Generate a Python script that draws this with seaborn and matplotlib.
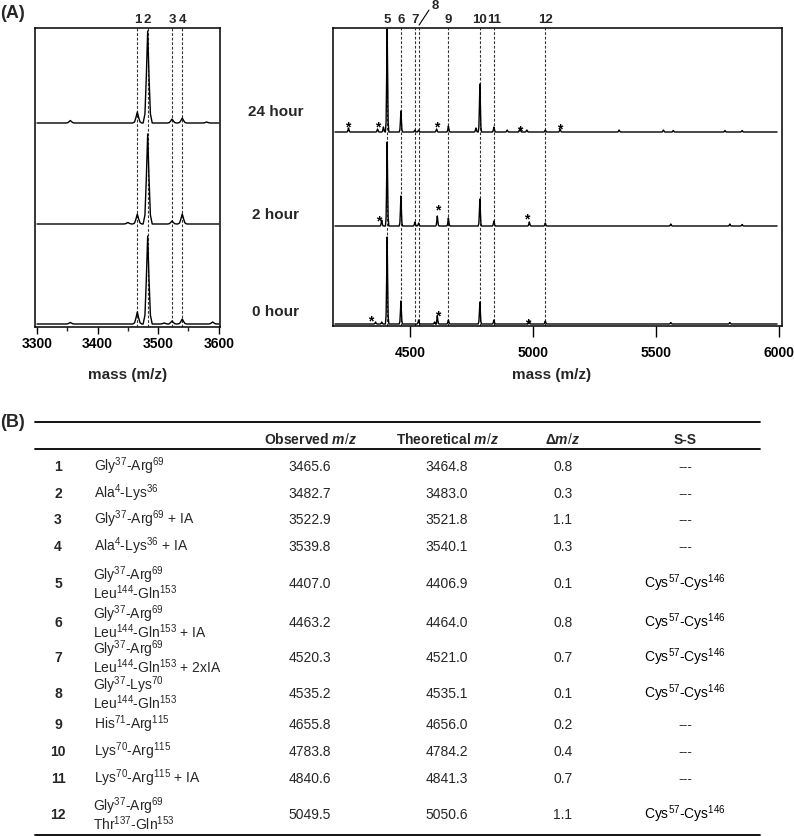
import numpy as np
import pandas as pd
import matplotlib
matplotlib.use('Agg')
import matplotlib.pyplot as plt
import matplotlib.transforms as mtrans
from matplotlib.lines import Line2D
import seaborn as sns

sns.set_theme(style='white')
plt.rcParams['font.family'] = ['Liberation Sans', 'DejaVu Sans']
plt.rcParams['mathtext.fontset'] = 'custom'
plt.rcParams['mathtext.rm'] = 'Liberation Sans'
plt.rcParams['mathtext.it'] = 'Liberation Sans:italic:bold'
plt.rcParams['mathtext.bf'] = 'Liberation Sans:bold'

# ---------------- data ----------------
time_labels = ['0 hour', '2 hour', '24 hour']

left_lines_mz = [3465.6, 3482.7, 3522.9, 3539.8]
left_lines_lab = ['1', '2', '3', '4']
right_lines_mz = [4407.0, 4463.2, 4520.3, 4535.2, 4655.8, 4783.8, 4840.6, 5049.5]
right_lines_lab = ['5', '6', '7', '', '9', '10', '11', '12']

# left panel spectra (peak m/z, intensity)
left_0h_mz = [3355, 3465.6, 3482.7, 3510, 3522.9, 3539.8, 3590]
left_0h_int = [1.5, 12, 88, 1, 3, 5, 2]
left_2h_mz = [3450, 3465.6, 3482.7, 3522.9, 3539.8]
left_2h_int = [1.5, 10, 90, 3, 10]
left_24h_mz = [3355, 3465.6, 3482.7, 3522.9, 3539.8, 3580]
left_24h_int = [2.5, 11, 92, 4, 5, 1]

# right panel spectra
right_0h_mz = [4360, 4385, 4407, 4463, 4535, 4600, 4611, 4656, 4784, 4841, 4985, 5050, 5560, 5800]
right_0h_int = [2, 2, 87, 23, 4, 2, 8, 4, 22, 4, 3, 3, 1.5, 1.5]
right_2h_mz = [4385, 4407, 4463, 4520, 4535, 4611, 4656, 4784, 4841, 4985, 5050, 5560, 5800, 5850]
right_2h_int = [6, 84, 30, 4, 3, 10, 8, 27, 5, 4, 3, 2, 2, 1.5]
right_24h_mz = [4250, 4368, 4392, 4407, 4463, 4520, 4535, 4608, 4656, 4768, 4784, 4841,
                4895, 4947, 4975, 5050, 5110, 5350, 5530, 5570, 5780, 5850]
right_24h_int = [4, 3, 5, 103, 21, 2, 2, 3, 6, 4, 48, 5,
                 2, 4, 2, 2, 3, 2, 2, 1.5, 1.5, 1.5]

# asterisks (m/z, intensity on the plot scale)
star_mz = [4247, 4369, 4608, 4944, 5110, 4371, 4611, 4974, 4341, 4611, 4978]
star_int = [204, 204, 204, 200, 202, 110, 121, 112, 10, 15, 7]

# table
row_num = ['1', '2', '3', '4', '5', '6', '7', '8', '9', '10', '11', '12']
peptides = [
    ['Gly$^{37}$-Arg$^{69}$'],
    ['Ala$^{4}$-Lys$^{36}$'],
    ['Gly$^{37}$-Arg$^{69}$ + IA'],
    ['Ala$^{4}$-Lys$^{36}$ + IA'],
    ['Gly$^{37}$-Arg$^{69}$', 'Leu$^{144}$-Gln$^{153}$'],
    ['Gly$^{37}$-Arg$^{69}$', 'Leu$^{144}$-Gln$^{153}$ + IA'],
    ['Gly$^{37}$-Arg$^{69}$', 'Leu$^{144}$-Gln$^{153}$ + 2xIA'],
    ['Gly$^{37}$-Lys$^{70}$', 'Leu$^{144}$-Gln$^{153}$'],
    ['His$^{71}$-Arg$^{115}$'],
    ['Lys$^{70}$-Arg$^{115}$'],
    ['Lys$^{70}$-Arg$^{115}$ + IA'],
    ['Gly$^{37}$-Arg$^{69}$', 'Thr$^{137}$-Gln$^{153}$'],
]
observed = ['3465.6', '3482.7', '3522.9', '3539.8', '4407.0', '4463.2', '4520.3',
            '4535.2', '4655.8', '4783.8', '4840.6', '5049.5']
theoretical = ['3464.8', '3483.0', '3521.8', '3540.1', '4406.9', '4464.0', '4521.0',
               '4535.1', '4656.0', '4784.2', '4841.3', '5050.6']
delta = ['0.8', '0.3', '1.1', '0.3', '0.1', '0.8', '0.7', '0.1', '0.2', '0.4', '0.7', '1.1']
ss = ['---', '---', '---', '---', 'CYS', 'CYS', 'CYS', 'CYS', '---', '---', '---', 'CYS']
headers = ['Observed $\\mathit{m/z}$', 'Theoretical $\\mathit{m/z}$', 'Δ$\\mathit{m/z}$', 'S-S']

# ---------------- layout / style ----------------
W, H = 794, 837
fig = plt.figure(figsize=(W / 100, H / 100), dpi=100)

def fx(x):
    return x / W

def fy(y):
    return 1 - y / H

SHAPE_DX = np.array([-1.0, -0.6, -0.3, 0.0, 0.3, 0.6, 1.0])
SHAPE_DY = np.array([0.0, 0.1, 0.5, 1.0, 0.5, 0.1, 0.0])

def build_trace(mz, inten, lo, hi, w, offset):
    xs = [lo]
    ys = [0.0]
    for c, h in sorted(zip(mz, inten)):
        xs += list(c + SHAPE_DX * w)
        ys += list(h * SHAPE_DY)
    xs.append(hi)
    ys.append(0.0)
    xs = np.array(xs)
    ys = np.array(ys)
    o = np.argsort(xs, kind='stable')
    return pd.DataFrame({'mass': xs[o], 'y': ys[o] + offset})

axL = fig.add_axes([fx(35), fy(328), 185 / W, 299 / H])
axR = fig.add_axes([fx(333), fy(327), 449 / W, 298 / H])

left_sets = [(left_0h_mz, left_0h_int, 3), (left_2h_mz, left_2h_int, 103), (left_24h_mz, left_24h_int, 204)]
right_sets = [(right_0h_mz, right_0h_int, 2), (right_2h_mz, right_2h_int, 100), (right_24h_mz, right_24h_int, 194)]

for mz, it, off in left_sets:
    d = build_trace(mz, it, 3300, 3600, 7.5, off)
    sns.lineplot(data=d, x='mass', y='y', ax=axL, color='black', lw=1.0,
                 sort=False, estimator=None)
for mz, it, off in right_sets:
    d = build_trace(mz, it, 4195, 5992, 7, off)
    sns.lineplot(data=d, x='mass', y='y', ax=axR, color='black', lw=1.0,
                 sort=False, estimator=None)

axL.set_xlim(3296.7, 3602.1)
axL.set_ylim(0, 299)
axR.set_xlim(4187, 6012)
axR.set_ylim(0, 298)

dash = (0, (2.5, 1.6))
for m in left_lines_mz:
    axL.axvline(m, color='#333333', lw=0.8, ls=dash, zorder=1)
for m in right_lines_mz:
    axR.axvline(m, color='#333333', lw=0.8, ls=dash, zorder=1)

for ax in (axL, axR):
    ax.set_xlabel('')
    ax.set_ylabel('')
    ax.set_yticks([])
    for s in ax.spines.values():
        s.set_color('black')
        s.set_linewidth(1.1)

axL.set_xticks([3300, 3400, 3500, 3600])
axL.set_xticks([3350, 3450, 3550], minor=True)
axL.tick_params(axis='x', which='major', bottom=True, direction='out', length=5,
                width=1, pad=1.5, labelsize=10, colors='black')
axL.tick_params(axis='x', which='minor', bottom=True, direction='out', length=3, width=1)
axR.set_xticks([4500, 5000, 5500, 6000])
axR.tick_params(axis='x', which='major', bottom=True, direction='out', length=8,
                width=1, pad=6, labelsize=10, colors='black')
for ax in (axL, axR):
    for t in ax.get_xticklabels():
        t.set_fontweight('bold')

# peak number labels
for ax, mzs, labs in ((axL, left_lines_mz, left_lines_lab), (axR, right_lines_mz, right_lines_lab)):
    tr = mtrans.blended_transform_factory(ax.transData, ax.transAxes)
    for m, l in zip(mzs, labs):
        if l:
            ax.text(m, 1.030, l, transform=tr, ha='center', va='center',
                    fontsize=9.5, fontweight='bold', clip_on=False)
trR = mtrans.blended_transform_factory(axR.transData, axR.transAxes)
axR.text(4602, 1.077, '8', transform=trR, ha='center', va='center',
         fontsize=9.5, fontweight='bold', clip_on=False)
axR.add_line(Line2D([4537, 4577], [1.010, 1.060], transform=trR, color='black',
                    lw=0.8, clip_on=False))

for m, v in zip(star_mz, star_int):
    axR.text(m, v - 8, '*', ha='center', va='baseline', fontsize=10,
             fontweight='bold', color='black')

# time labels
for lab, y in zip(time_labels, [312, 215, 112]):
    fig.text(fx(276), fy(y), lab, ha='center', va='center', fontsize=11, fontweight='bold')

fig.text(fx(128), fy(375), 'mass (m/z)', ha='center', va='center', fontsize=11, fontweight='bold')
fig.text(fx(552), fy(375), 'mass (m/z)', ha='center', va='center', fontsize=11, fontweight='bold')
fig.text(fx(0), fy(14), '(A)', ha='left', va='center', fontsize=13, fontweight='bold')
fig.text(fx(0), fy(423), '(B)', ha='left', va='center', fontsize=13, fontweight='bold')

# ---------------- table ----------------
for y in (423, 450, 835.5):
    fig.add_artist(Line2D([fx(35), fx(760)], [fy(y), fy(y)], color='black', lw=1.3))

col_x = [310, 447, 563, 685]
for x, h in zip(col_x, headers):
    fig.text(fx(x), fy(439 + 5), h, ha='center', va='baseline', fontsize=10, fontweight='bold')

row_y = [466, 493, 519, 546, 583, 622, 657, 693, 724, 751, 778, 814]
for i, y in enumerate(row_y):
    base = y + 5
    fig.text(fx(58), fy(base), row_num[i], ha='center', va='baseline', fontsize=10, fontweight='bold')
    lines = peptides[i]
    if len(lines) == 1:
        fig.text(fx(94), fy(base), lines[0], ha='left', va='baseline', fontsize=10)
    else:
        fig.text(fx(93), fy(y), '\n'.join(lines), ha='left', va='center',
                 fontsize=10, linespacing=0.82)
    fig.text(fx(310), fy(base), observed[i], ha='center', va='baseline', fontsize=10)
    fig.text(fx(447), fy(base), theoretical[i], ha='center', va='baseline', fontsize=10)
    fig.text(fx(563), fy(base), delta[i], ha='center', va='baseline', fontsize=10)
    s = 'Cys$^{57}$-Cys$^{146}$' if ss[i] == 'CYS' else '---'
    fig.text(fx(685), fy(base), s, ha='center', va='baseline', fontsize=10,
             color='black' if ss[i] == 'CYS' else '#333333')

fig.savefig('out.png', dpi=100)
